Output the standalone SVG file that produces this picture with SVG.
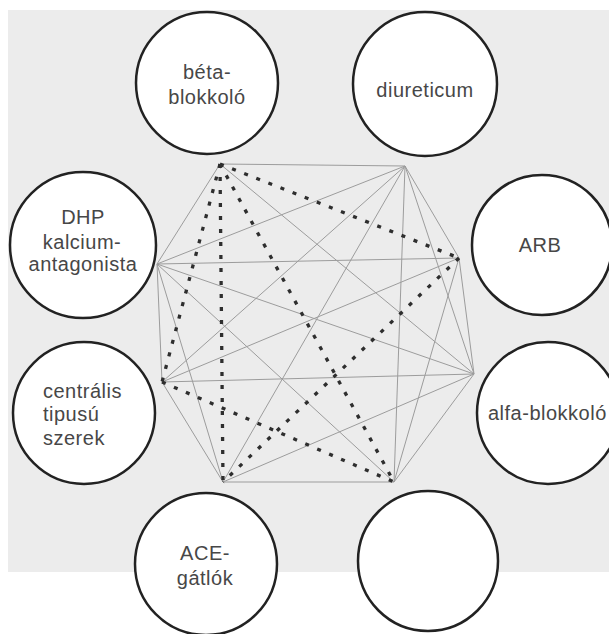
<svg xmlns="http://www.w3.org/2000/svg" width="609" height="634" viewBox="0 0 609 634">
<style>
.node circle{fill:#ffffff;stroke:#222222;stroke-width:2.5}
.node text{font-family:"Liberation Sans",Arial,sans-serif;font-size:20px;letter-spacing:0.5px;fill:#474747}
.c{text-anchor:middle}
.solid line{stroke:#9c9c9c;stroke-width:1}
.dash line{stroke:#2e2e2e;stroke-width:3.3;stroke-dasharray:4 9}
</style>
<rect x="0" y="0" width="609" height="634" fill="#ffffff"/>
<rect x="8" y="10" width="601" height="562" fill="#ececec"/>
<g id="connectors">
 <g class="solid">
  <line x1="220" y1="164" x2="405" y2="166"/>
  <line x1="220" y1="164" x2="474" y2="374"/>
  <line x1="220" y1="164" x2="157" y2="264"/>
  <line x1="405" y1="166" x2="459" y2="258"/>
  <line x1="405" y1="166" x2="474" y2="374"/>
  <line x1="405" y1="166" x2="394" y2="482"/>
  <line x1="405" y1="166" x2="223" y2="482"/>
  <line x1="405" y1="166" x2="162" y2="382"/>
  <line x1="405" y1="166" x2="157" y2="264"/>
  <line x1="459" y1="258" x2="474" y2="374"/>
  <line x1="459" y1="258" x2="394" y2="482"/>
  <line x1="459" y1="258" x2="162" y2="382"/>
  <line x1="459" y1="258" x2="157" y2="264"/>
  <line x1="474" y1="374" x2="394" y2="482"/>
  <line x1="474" y1="374" x2="223" y2="482"/>
  <line x1="474" y1="374" x2="162" y2="382"/>
  <line x1="474" y1="374" x2="157" y2="264"/>
  <line x1="394" y1="482" x2="223" y2="482"/>
  <line x1="394" y1="482" x2="157" y2="264"/>
  <line x1="223" y1="482" x2="162" y2="382"/>
  <line x1="223" y1="482" x2="157" y2="264"/>
  <line x1="162" y1="382" x2="157" y2="264"/>
 </g>
 <g class="dash">
  <line x1="220" y1="164" x2="459" y2="258"/>
  <line x1="220" y1="164" x2="162" y2="382"/>
  <line x1="220" y1="164" x2="223" y2="482"/>
  <line x1="220" y1="164" x2="394" y2="482"/>
  <line x1="459" y1="258" x2="223" y2="482"/>
  <line x1="162" y1="382" x2="394" y2="482"/>
 </g>
</g>
<g id="beta-blokkolo" class="node">
 <circle cx="207" cy="83" r="71"/>
 <text class="c" x="207" y="79">béta-</text>
 <text class="c" x="207" y="104">blokkoló</text>
</g>
<g id="diureticum" class="node">
 <circle cx="425" cy="84" r="72"/>
 <text class="c" x="425" y="97">diureticum</text>
</g>
<g id="dhp" class="node">
 <circle cx="83" cy="245" r="73"/>
 <text class="c" x="83" y="224">DHP</text>
 <text class="c" x="82" y="249">kalcium-</text>
 <text class="c" x="83" y="271">antagonista</text>
</g>
<g id="arb" class="node">
 <circle cx="542" cy="245" r="70"/>
 <text class="c" x="540" y="252">ARB</text>
</g>
<g id="centralis" class="node">
 <circle cx="84" cy="413" r="71"/>
 <text x="43" y="398">centrális</text>
 <text x="43" y="421">tipusú</text>
 <text x="43" y="445">szerek</text>
</g>
<g id="alfa-blokkolo" class="node">
 <circle cx="548" cy="413" r="71"/>
 <text x="488" y="420">alfa-blokkoló</text>
</g>
<g id="ace" class="node">
 <circle cx="206" cy="564" r="71"/>
 <text class="c" x="205" y="560">ACE-</text>
 <text class="c" x="205" y="585">gátlók</text>
</g>
<g id="ures" class="node">
 <circle cx="428" cy="561" r="70"/>
</g>
</svg>
